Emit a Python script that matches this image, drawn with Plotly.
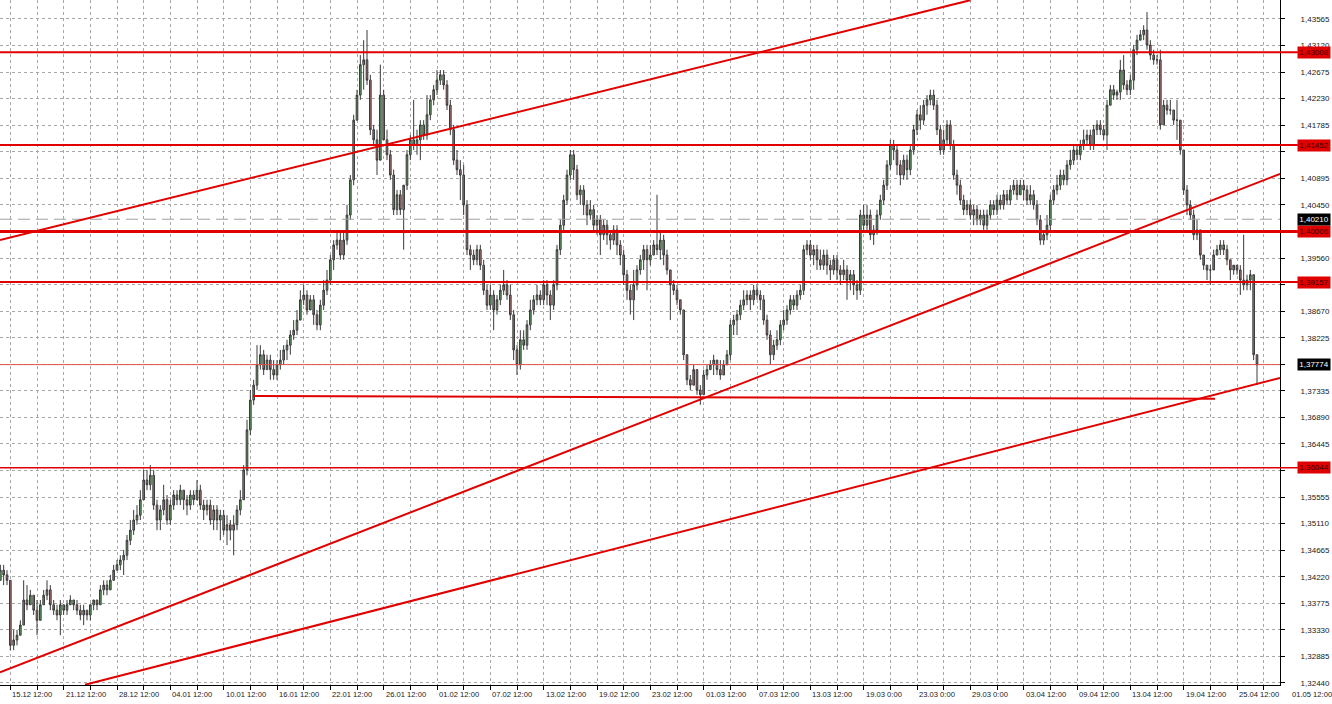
import plotly.graph_objects as go

# ---------------- data (H4 candles) ----------------
opens = [
1.3416, 1.3433, 1.3425, 1.3416, 1.3307, 1.3316, 1.3324, 1.3341, 1.3383, 1.3375,
1.3391, 1.3366, 1.3349, 1.3375, 1.3391, 1.3400, 1.3375, 1.3366, 1.3358, 1.3375,
1.3366, 1.3375, 1.3383, 1.3375, 1.3366, 1.3358, 1.3366, 1.3358, 1.3375, 1.3383,
1.3375, 1.3400, 1.3408, 1.3400, 1.3416, 1.3433, 1.3442, 1.3450, 1.3458, 1.3483,
1.3500, 1.3517, 1.3525, 1.3551, 1.3584, 1.3576, 1.3592, 1.3542, 1.3517, 1.3534,
1.3551, 1.3517, 1.3542, 1.3559, 1.3551, 1.3567, 1.3551, 1.3542, 1.3559, 1.3551,
1.3567, 1.3542, 1.3534, 1.3542, 1.3517, 1.3534, 1.3517, 1.3525, 1.3500, 1.3509,
1.3500, 1.3509, 1.3534, 1.3551, 1.3601, 1.3668, 1.3718, 1.3743, 1.3777, 1.3794,
1.3769, 1.3785, 1.3769, 1.3760, 1.3777, 1.3785, 1.3802, 1.3810, 1.3827, 1.3835,
1.3852, 1.3886, 1.3894, 1.3869, 1.3886, 1.3861, 1.3844, 1.3877, 1.3902, 1.3919,
1.3953, 1.3978, 1.3986, 1.3961, 1.3986, 1.4028, 1.4087, 1.4187, 1.4229, 1.4280,
1.4288, 1.4254, 1.4171, 1.4154, 1.4120, 1.4229, 1.4154, 1.4129, 1.4095, 1.4037,
1.4062, 1.4037, 1.4078, 1.4129, 1.4154, 1.4145, 1.4154, 1.4179, 1.4162, 1.4196,
1.4221, 1.4238, 1.4254, 1.4263, 1.4246, 1.4212, 1.4171, 1.4120, 1.4104, 1.4095,
1.4045, 1.3970, 1.3961, 1.3953, 1.3970, 1.3944, 1.3902, 1.3877, 1.3894, 1.3869,
1.3886, 1.3902, 1.3911, 1.3894, 1.3861, 1.3802, 1.3777, 1.3819, 1.3810, 1.3844,
1.3869, 1.3886, 1.3894, 1.3886, 1.3911, 1.3894, 1.3877, 1.3911, 1.3970, 1.4011,
1.4053, 1.4095, 1.4129, 1.4104, 1.4062, 1.4070, 1.4045, 1.4028, 1.4037, 1.4011,
1.4020, 1.3995, 1.4011, 1.3995, 1.3986, 1.4003, 1.3978, 1.3961, 1.3928, 1.3902,
1.3886, 1.3911, 1.3936, 1.3953, 1.3970, 1.3953, 1.3961, 1.3978, 1.3970, 1.3986,
1.3961, 1.3936, 1.3911, 1.3902, 1.3886, 1.3869, 1.3794, 1.3752, 1.3743, 1.3769,
1.3735, 1.3727, 1.3760, 1.3769, 1.3777, 1.3785, 1.3769, 1.3760, 1.3777, 1.3794,
1.3844, 1.3852, 1.3861, 1.3877, 1.3886, 1.3894, 1.3886, 1.3902, 1.3894, 1.3886,
1.3852, 1.3827, 1.3794, 1.3810, 1.3819, 1.3844, 1.3852, 1.3869, 1.3886, 1.3877,
1.3894, 1.3902, 1.3970, 1.3978, 1.3961, 1.3970, 1.3953, 1.3944, 1.3961, 1.3944,
1.3936, 1.3953, 1.3936, 1.3928, 1.3936, 1.3919, 1.3928, 1.3911, 1.3902, 1.4028,
1.4011, 1.4028, 1.3995, 1.4003, 1.4028, 1.4053, 1.4078, 1.4112, 1.4145, 1.4137,
1.4112, 1.4095, 1.4120, 1.4104, 1.4137, 1.4171, 1.4196, 1.4187, 1.4212, 1.4221,
1.4229, 1.4212, 1.4171, 1.4137, 1.4154, 1.4179, 1.4145, 1.4095, 1.4078, 1.4053,
1.4037, 1.4045, 1.4028, 1.4037, 1.4020, 1.4028, 1.4011, 1.4028, 1.4045, 1.4037,
1.4053, 1.4045, 1.4062, 1.4053, 1.4070, 1.4078, 1.4062, 1.4078, 1.4070, 1.4053,
1.4062, 1.4045, 1.4020, 1.3986, 1.3995, 1.4011, 1.4053, 1.4070, 1.4078, 1.4095,
1.4087, 1.4112, 1.4120, 1.4137, 1.4129, 1.4145, 1.4154, 1.4162, 1.4145, 1.4171,
1.4179, 1.4171, 1.4162, 1.4212, 1.4238, 1.4229, 1.4234, 1.4271, 1.4246, 1.4238,
1.4254, 1.4305, 1.4321, 1.4330, 1.4338, 1.4313, 1.4296, 1.4288, 1.4288, 1.4179,
1.4212, 1.4204, 1.4204, 1.4187, 1.4187, 1.4137, 1.4070, 1.4045, 1.4028, 1.3995,
1.4003, 1.3961, 1.3944, 1.3936, 1.3936, 1.3961, 1.3970, 1.3978, 1.3970, 1.3953,
1.3936, 1.3944, 1.3936, 1.3919, 1.3911, 1.3919, 1.3928, 1.3794]

highs = [
1.3442, 1.3442, 1.3433, 1.3416, 1.3333, 1.3333, 1.3349, 1.3416, 1.3408, 1.3400,
1.3391, 1.3383, 1.3383, 1.3400, 1.3416, 1.3408, 1.3383, 1.3375, 1.3383, 1.3375,
1.3383, 1.3391, 1.3383, 1.3383, 1.3375, 1.3375, 1.3366, 1.3375, 1.3383, 1.3383,
1.3408, 1.3416, 1.3416, 1.3425, 1.3442, 1.3450, 1.3458, 1.3467, 1.3492, 1.3517,
1.3534, 1.3542, 1.3567, 1.3601, 1.3601, 1.3609, 1.3601, 1.3551, 1.3542, 1.3576,
1.3559, 1.3551, 1.3567, 1.3567, 1.3576, 1.3567, 1.3559, 1.3567, 1.3567, 1.3584,
1.3576, 1.3551, 1.3551, 1.3551, 1.3542, 1.3542, 1.3534, 1.3534, 1.3525, 1.3517,
1.3525, 1.3542, 1.3567, 1.3609, 1.3685, 1.3735, 1.3752, 1.3810, 1.3810, 1.3802,
1.3794, 1.3794, 1.3785, 1.3785, 1.3802, 1.3810, 1.3819, 1.3835, 1.3852, 1.3869,
1.3902, 1.3911, 1.3902, 1.3894, 1.3894, 1.3869, 1.3886, 1.3919, 1.3936, 1.3961,
1.3986, 1.4003, 1.4003, 1.4003, 1.4045, 1.4095, 1.4196, 1.4238, 1.4296, 1.4321,
1.4338, 1.4263, 1.4179, 1.4171, 1.4280, 1.4238, 1.4171, 1.4137, 1.4104, 1.4070,
1.4070, 1.4078, 1.4137, 1.4162, 1.4221, 1.4171, 1.4187, 1.4187, 1.4229, 1.4229,
1.4246, 1.4271, 1.4271, 1.4271, 1.4254, 1.4221, 1.4179, 1.4137, 1.4120, 1.4112,
1.4053, 1.3978, 1.3970, 1.3978, 1.3978, 1.3953, 1.3911, 1.3911, 1.3902, 1.3894,
1.3911, 1.3936, 1.3919, 1.3911, 1.3869, 1.3810, 1.3835, 1.3835, 1.3852, 1.3886,
1.3894, 1.3911, 1.3902, 1.3919, 1.3919, 1.3902, 1.3919, 1.3978, 1.4020, 1.4062,
1.4104, 1.4137, 1.4137, 1.4112, 1.4078, 1.4078, 1.4053, 1.4053, 1.4045, 1.4028,
1.4028, 1.4020, 1.4020, 1.4003, 1.4011, 1.4011, 1.3986, 1.3970, 1.3936, 1.3911,
1.3936, 1.3944, 1.3961, 1.3978, 1.3978, 1.3978, 1.3986, 1.4062, 1.4003, 1.3995,
1.3970, 1.3936, 1.3919, 1.3911, 1.3886, 1.3869, 1.3794, 1.3760, 1.3777, 1.3769,
1.3743, 1.3769, 1.3777, 1.3785, 1.3794, 1.3785, 1.3785, 1.3785, 1.3802, 1.3852,
1.3861, 1.3869, 1.3886, 1.3902, 1.3902, 1.3902, 1.3911, 1.3911, 1.3902, 1.3894,
1.3861, 1.3835, 1.3819, 1.3835, 1.3852, 1.3869, 1.3877, 1.3894, 1.3894, 1.3902,
1.3911, 1.3978, 1.3986, 1.3986, 1.3978, 1.3978, 1.3970, 1.3970, 1.3970, 1.3953,
1.3961, 1.3961, 1.3944, 1.3953, 1.3944, 1.3936, 1.3936, 1.3919, 1.4037, 1.4045,
1.4045, 1.4037, 1.4011, 1.4037, 1.4062, 1.4087, 1.4120, 1.4154, 1.4154, 1.4145,
1.4120, 1.4129, 1.4129, 1.4145, 1.4179, 1.4204, 1.4212, 1.4221, 1.4229, 1.4238,
1.4238, 1.4221, 1.4179, 1.4171, 1.4187, 1.4187, 1.4154, 1.4104, 1.4087, 1.4062,
1.4053, 1.4053, 1.4045, 1.4045, 1.4037, 1.4037, 1.4037, 1.4053, 1.4053, 1.4062,
1.4062, 1.4070, 1.4070, 1.4078, 1.4087, 1.4087, 1.4087, 1.4087, 1.4078, 1.4078,
1.4070, 1.4053, 1.4028, 1.4003, 1.4028, 1.4062, 1.4078, 1.4095, 1.4104, 1.4104,
1.4120, 1.4137, 1.4145, 1.4145, 1.4154, 1.4171, 1.4171, 1.4171, 1.4179, 1.4187,
1.4187, 1.4179, 1.4221, 1.4246, 1.4246, 1.4238, 1.4288, 1.4296, 1.4254, 1.4263,
1.4313, 1.4330, 1.4338, 1.4346, 1.4368, 1.4321, 1.4305, 1.4296, 1.4305, 1.4221,
1.4221, 1.4221, 1.4204, 1.4221, 1.4187, 1.4137, 1.4078, 1.4053, 1.4037, 1.4020,
1.4003, 1.3961, 1.3944, 1.3944, 1.3970, 1.3978, 1.3986, 1.3986, 1.3978, 1.3953,
1.3944, 1.3944, 1.3944, 1.3995, 1.3928, 1.3936, 1.3928, 1.3794]

lows = [
1.3416, 1.3408, 1.3408, 1.3299, 1.3299, 1.3307, 1.3324, 1.3341, 1.3366, 1.3375,
1.3358, 1.3324, 1.3349, 1.3375, 1.3383, 1.3366, 1.3358, 1.3349, 1.3324, 1.3358,
1.3358, 1.3375, 1.3366, 1.3358, 1.3349, 1.3341, 1.3349, 1.3349, 1.3366, 1.3366,
1.3375, 1.3391, 1.3391, 1.3400, 1.3416, 1.3433, 1.3433, 1.3425, 1.3450, 1.3475,
1.3492, 1.3509, 1.3517, 1.3551, 1.3567, 1.3567, 1.3534, 1.3500, 1.3500, 1.3525,
1.3509, 1.3509, 1.3534, 1.3542, 1.3542, 1.3534, 1.3525, 1.3534, 1.3542, 1.3551,
1.3534, 1.3517, 1.3525, 1.3509, 1.3500, 1.3500, 1.3483, 1.3492, 1.3475, 1.3483,
1.3458, 1.3500, 1.3525, 1.3551, 1.3592, 1.3659, 1.3710, 1.3735, 1.3769, 1.3760,
1.3769, 1.3752, 1.3752, 1.3752, 1.3769, 1.3777, 1.3785, 1.3794, 1.3819, 1.3827,
1.3852, 1.3877, 1.3861, 1.3869, 1.3844, 1.3835, 1.3835, 1.3869, 1.3894, 1.3911,
1.3936, 1.3970, 1.3953, 1.3953, 1.3978, 1.4020, 1.4078, 1.4187, 1.4221, 1.4238,
1.4246, 1.4162, 1.4145, 1.4095, 1.4120, 1.4154, 1.4120, 1.4087, 1.4028, 1.4028,
1.4028, 1.3970, 1.4070, 1.4120, 1.4137, 1.4129, 1.4120, 1.4154, 1.4154, 1.4187,
1.4212, 1.4229, 1.4246, 1.4238, 1.4204, 1.4162, 1.4112, 1.4095, 1.4053, 1.4028,
1.3961, 1.3936, 1.3944, 1.3944, 1.3936, 1.3894, 1.3869, 1.3869, 1.3835, 1.3861,
1.3877, 1.3894, 1.3886, 1.3852, 1.3785, 1.3760, 1.3769, 1.3802, 1.3802, 1.3835,
1.3861, 1.3877, 1.3877, 1.3877, 1.3877, 1.3852, 1.3869, 1.3902, 1.3961, 1.4003,
1.4045, 1.4087, 1.4087, 1.4053, 1.4045, 1.4028, 1.4011, 1.4020, 1.4003, 1.3995,
1.3961, 1.3986, 1.3978, 1.3970, 1.3978, 1.3961, 1.3944, 1.3911, 1.3886, 1.3861,
1.3852, 1.3902, 1.3928, 1.3936, 1.3902, 1.3944, 1.3961, 1.3961, 1.3953, 1.3944,
1.3928, 1.3852, 1.3894, 1.3877, 1.3861, 1.3785, 1.3743, 1.3735, 1.3743, 1.3727,
1.3710, 1.3727, 1.3752, 1.3769, 1.3760, 1.3760, 1.3752, 1.3760, 1.3777, 1.3785,
1.3827, 1.3827, 1.3852, 1.3869, 1.3877, 1.3869, 1.3877, 1.3886, 1.3869, 1.3844,
1.3819, 1.3777, 1.3785, 1.3802, 1.3810, 1.3835, 1.3844, 1.3861, 1.3869, 1.3869,
1.3886, 1.3894, 1.3961, 1.3953, 1.3944, 1.3936, 1.3936, 1.3936, 1.3928, 1.3919,
1.3928, 1.3919, 1.3911, 1.3919, 1.3886, 1.3902, 1.3894, 1.3886, 1.3894, 1.4003,
1.4003, 1.3986, 1.3978, 1.3995, 1.4020, 1.4045, 1.4070, 1.4104, 1.4120, 1.4095,
1.4078, 1.4087, 1.4087, 1.4095, 1.4129, 1.4162, 1.4171, 1.4179, 1.4196, 1.4212,
1.4204, 1.4162, 1.4129, 1.4129, 1.4145, 1.4137, 1.4087, 1.4062, 1.4045, 1.4028,
1.4028, 1.4020, 1.4011, 1.4011, 1.4011, 1.4003, 1.4003, 1.4020, 1.4028, 1.4028,
1.4037, 1.4037, 1.4045, 1.4045, 1.4062, 1.4053, 1.4062, 1.4053, 1.4045, 1.4045,
1.4037, 1.4011, 1.3978, 1.3978, 1.3986, 1.4003, 1.4045, 1.4062, 1.4070, 1.4078,
1.4078, 1.4104, 1.4112, 1.4120, 1.4120, 1.4137, 1.4145, 1.4137, 1.4137, 1.4162,
1.4162, 1.4154, 1.4137, 1.4212, 1.4221, 1.4221, 1.4221, 1.4238, 1.4229, 1.4229,
1.4238, 1.4296, 1.4321, 1.4321, 1.4305, 1.4288, 1.4280, 1.4280, 1.4171, 1.4179,
1.4196, 1.4196, 1.4179, 1.4154, 1.4129, 1.4062, 1.4028, 1.4020, 1.3986, 1.3986,
1.3953, 1.3936, 1.3919, 1.3911, 1.3936, 1.3961, 1.3961, 1.3961, 1.3944, 1.3919,
1.3928, 1.3928, 1.3894, 1.3902, 1.3902, 1.3902, 1.3785, 1.3743]

closes = [
1.3433, 1.3425, 1.3416, 1.3307, 1.3316, 1.3324, 1.3341, 1.3383, 1.3375, 1.3391,
1.3366, 1.3349, 1.3375, 1.3391, 1.3400, 1.3375, 1.3366, 1.3358, 1.3375, 1.3366,
1.3375, 1.3383, 1.3375, 1.3366, 1.3358, 1.3366, 1.3358, 1.3375, 1.3383, 1.3375,
1.3400, 1.3408, 1.3400, 1.3416, 1.3433, 1.3442, 1.3450, 1.3458, 1.3483, 1.3500,
1.3517, 1.3525, 1.3551, 1.3584, 1.3576, 1.3592, 1.3542, 1.3517, 1.3534, 1.3551,
1.3517, 1.3542, 1.3559, 1.3551, 1.3567, 1.3551, 1.3542, 1.3559, 1.3551, 1.3567,
1.3542, 1.3534, 1.3542, 1.3517, 1.3534, 1.3517, 1.3525, 1.3500, 1.3509, 1.3500,
1.3509, 1.3534, 1.3551, 1.3601, 1.3668, 1.3718, 1.3743, 1.3777, 1.3794, 1.3769,
1.3785, 1.3769, 1.3760, 1.3777, 1.3785, 1.3802, 1.3810, 1.3827, 1.3835, 1.3852,
1.3886, 1.3894, 1.3869, 1.3886, 1.3861, 1.3844, 1.3877, 1.3902, 1.3919, 1.3953,
1.3978, 1.3986, 1.3961, 1.3986, 1.4028, 1.4087, 1.4187, 1.4229, 1.4280, 1.4288,
1.4254, 1.4171, 1.4154, 1.4120, 1.4229, 1.4154, 1.4129, 1.4095, 1.4037, 1.4062,
1.4037, 1.4078, 1.4129, 1.4154, 1.4145, 1.4154, 1.4179, 1.4162, 1.4196, 1.4221,
1.4238, 1.4254, 1.4263, 1.4246, 1.4212, 1.4171, 1.4120, 1.4104, 1.4095, 1.4045,
1.3970, 1.3961, 1.3953, 1.3970, 1.3944, 1.3902, 1.3877, 1.3894, 1.3869, 1.3886,
1.3902, 1.3911, 1.3894, 1.3861, 1.3802, 1.3777, 1.3819, 1.3810, 1.3844, 1.3869,
1.3886, 1.3894, 1.3886, 1.3911, 1.3894, 1.3877, 1.3911, 1.3970, 1.4011, 1.4053,
1.4095, 1.4129, 1.4104, 1.4062, 1.4070, 1.4045, 1.4028, 1.4037, 1.4011, 1.4020,
1.3995, 1.4011, 1.3995, 1.3986, 1.4003, 1.3978, 1.3961, 1.3928, 1.3902, 1.3886,
1.3911, 1.3936, 1.3953, 1.3970, 1.3953, 1.3961, 1.3978, 1.3970, 1.3986, 1.3961,
1.3936, 1.3911, 1.3902, 1.3886, 1.3869, 1.3794, 1.3752, 1.3743, 1.3769, 1.3735,
1.3727, 1.3760, 1.3769, 1.3777, 1.3785, 1.3769, 1.3760, 1.3777, 1.3794, 1.3844,
1.3852, 1.3861, 1.3877, 1.3886, 1.3894, 1.3886, 1.3902, 1.3894, 1.3886, 1.3852,
1.3827, 1.3794, 1.3810, 1.3819, 1.3844, 1.3852, 1.3869, 1.3886, 1.3877, 1.3894,
1.3902, 1.3970, 1.3978, 1.3961, 1.3970, 1.3953, 1.3944, 1.3961, 1.3944, 1.3936,
1.3953, 1.3936, 1.3928, 1.3936, 1.3919, 1.3928, 1.3911, 1.3902, 1.4028, 1.4011,
1.4028, 1.3995, 1.4003, 1.4028, 1.4053, 1.4078, 1.4112, 1.4145, 1.4137, 1.4112,
1.4095, 1.4120, 1.4104, 1.4137, 1.4171, 1.4196, 1.4187, 1.4212, 1.4221, 1.4229,
1.4212, 1.4171, 1.4137, 1.4154, 1.4179, 1.4145, 1.4095, 1.4078, 1.4053, 1.4037,
1.4045, 1.4028, 1.4037, 1.4020, 1.4028, 1.4011, 1.4028, 1.4045, 1.4037, 1.4053,
1.4045, 1.4062, 1.4053, 1.4070, 1.4078, 1.4062, 1.4078, 1.4070, 1.4053, 1.4062,
1.4045, 1.4020, 1.3986, 1.3995, 1.4011, 1.4053, 1.4070, 1.4078, 1.4095, 1.4087,
1.4112, 1.4120, 1.4137, 1.4129, 1.4145, 1.4154, 1.4162, 1.4145, 1.4171, 1.4179,
1.4171, 1.4162, 1.4212, 1.4238, 1.4229, 1.4234, 1.4271, 1.4246, 1.4238, 1.4254,
1.4305, 1.4321, 1.4330, 1.4338, 1.4313, 1.4296, 1.4288, 1.4288, 1.4179, 1.4212,
1.4204, 1.4204, 1.4187, 1.4187, 1.4137, 1.4070, 1.4045, 1.4028, 1.3995, 1.4003,
1.3961, 1.3944, 1.3936, 1.3936, 1.3961, 1.3970, 1.3978, 1.3970, 1.3953, 1.3936,
1.3944, 1.3936, 1.3919, 1.3911, 1.3919, 1.3928, 1.3794, 1.3777]

# time-axis labels (every 16 bars, starting at bar 3; the last one sits past the plot edge)
x_label_text = ["15.12 12:00", "21.12 12:00", "28.12 12:00", "04.01 12:00", "10.01 12:00",
                "16.01 12:00", "22.01 12:00", "26.01 12:00", "01.02 12:00", "07.02 12:00",
                "13.02 12:00", "19.02 12:00", "23.02 12:00", "01.03 12:00", "07.03 12:00",
                "13.03 12:00", "19.03 0:00", "23.03 0:00", "29.03 0:00", "03.04 12:00",
                "09.04 12:00", "13.04 12:00", "19.04 12:00", "25.04 12:00", "01.05 12:00"]
x_label_bars = [3, 19, 35, 51, 67, 83, 99, 115, 131, 147, 163, 179, 195, 211, 227,
                243, 259, 275, 291, 307, 323, 339, 355, 371, 387]
x_grid_bars = list(range(3, 384, 8))

# price-axis ticks (labels hidden behind the level boxes are left blank)
y_ticks = [1.32440, 1.32885, 1.33330, 1.33775, 1.34220, 1.34665, 1.35110, 1.35555,
           1.36000, 1.36445, 1.36890, 1.37335, 1.37780, 1.38225, 1.38670, 1.39115,
           1.39560, 1.40005, 1.40450, 1.40895, 1.41340, 1.41785, 1.42230, 1.42675,
           1.43120, 1.43565]
y_hidden = [1.36000, 1.37780, 1.39115, 1.40005, 1.41340]

# horizontal levels
red_levels = [1.43008, 1.41452, 1.40006, 1.39157, 1.36044]
red_widths = [2, 2, 3, 2, 1.5]
bid_level = 1.40210
last_level = 1.37774

# trend lines: (bar0, price0, bar1, price1)
trend_lines = [
    (-0.1, 1.3986, 291.0, 1.4388),
    (-0.1, 1.3262, 383.9, 1.4097),
    (25.4, 1.3241, 383.9, 1.3755),
    (75.8, 1.3725, 364.4, 1.3720),
]

X_RANGE = [-0.1, 383.9]
Y_RANGE = [1.32406, 1.43883]
PX_PER_BAR = 1280 / (X_RANGE[1] - X_RANGE[0])

RED = "#e00000"
FONT = "Liberation Sans, Arial, sans-serif"

bars = list(range(len(closes)))


def fmt(v):
    return f"{v:.5f}".replace(".", ",")


fig = go.Figure()
fig.add_trace(go.Candlestick(
    x=bars, open=opens, high=highs, low=lows, close=closes,
    increasing=dict(line=dict(color="#3a3a3a", width=1), fillcolor="#5fa05f"),
    decreasing=dict(line=dict(color="#3a3a3a", width=1), fillcolor="#a87070"),
    whiskerwidth=0, hoverinfo="skip", showlegend=False,
))

shapes = []
for lvl, w in zip(red_levels, red_widths):
    shapes.append(dict(type="line", xref="paper", x0=0, x1=1.014, yref="y", y0=lvl, y1=lvl,
                       line=dict(color=RED, width=w), layer="above"))
shapes.append(dict(type="line", xref="paper", x0=0, x1=1, yref="y", y0=last_level, y1=last_level,
                   line=dict(color="#e05050", width=1), layer="above"))
shapes.append(dict(type="line", xref="paper", x0=0, x1=1, yref="y", y0=bid_level, y1=bid_level,
                   line=dict(color="#a0a0a0", width=1, dash="12px,6px"), layer="above"))
for (b0, p0, b1, p1) in trend_lines:
    shapes.append(dict(type="line", xref="x", yref="y", x0=b0, y0=p0, x1=b1, y1=p1,
                       line=dict(color=RED, width=2), layer="above"))

annotations = []
for txt, b in zip(x_label_text, x_label_bars):
    if b <= X_RANGE[1]:
        pos = dict(x=b, xref="x", xshift=0)
    else:
        # label beyond the last bar: anchor at the plot edge and shift by its bar offset
        pos = dict(x=1, xref="paper", xshift=(b - X_RANGE[1]) * PX_PER_BAR)
    annotations.append(dict(**pos, y=0, yref="paper", text=txt, showarrow=False,
                            xanchor="left", yanchor="top", yshift=-3,
                            font=dict(family=FONT, size=7.6, color="#202020")))

for lvl in red_levels:
    annotations.append(dict(x=1, xref="paper", y=lvl, yref="y", text=fmt(lvl), showarrow=False,
                            xanchor="left", yanchor="middle", xshift=17, width=32, height=11,
                            bgcolor=RED, borderpad=0, align="center",
                            font=dict(family=FONT, size=8, color="#3a0000")))
for lvl in [bid_level, last_level]:
    annotations.append(dict(x=1, xref="paper", y=lvl, yref="y", text=fmt(lvl), showarrow=False,
                            xanchor="left", yanchor="middle", xshift=17, width=32, height=11,
                            bgcolor="#000000", borderpad=0, align="center",
                            font=dict(family=FONT, size=8, color="#ffffff")))

fig.update_layout(
    width=1332, height=704, autosize=False,
    margin=dict(l=0, r=52, t=0, b=19),
    paper_bgcolor="white", plot_bgcolor="white",
    showlegend=False,
    shapes=shapes, annotations=annotations,
    xaxis=dict(range=X_RANGE, rangeslider=dict(visible=False), type="linear",
               tickmode="array", tickvals=x_grid_bars, ticktext=[""] * len(x_grid_bars),
               showgrid=True, gridcolor="#a8a8a8", griddash="3px,3px", gridwidth=1,
               ticks="outside", ticklen=4, tickcolor="#000000",
               showline=True, linecolor="#000000", linewidth=1, zeroline=False,
               fixedrange=True),
    yaxis=dict(range=Y_RANGE, side="right", tickmode="array", tickvals=y_ticks,
               ticktext=["" if v in y_hidden else fmt(v) for v in y_ticks],
               showgrid=True, gridcolor="#a8a8a8", griddash="3px,3px", gridwidth=1,
               ticks="outside", ticklen=4, tickcolor="#000000",
               ticklabelstandoff=14,
               tickfont=dict(family=FONT, size=8, color="#202020"),
               showline=True, linecolor="#000000", linewidth=1, zeroline=False,
               fixedrange=True),
)

fig.write_html("out.html", config={"displayModeBar": False},
               post_script="document.body.style.margin='0';document.body.style.overflow='hidden';")
